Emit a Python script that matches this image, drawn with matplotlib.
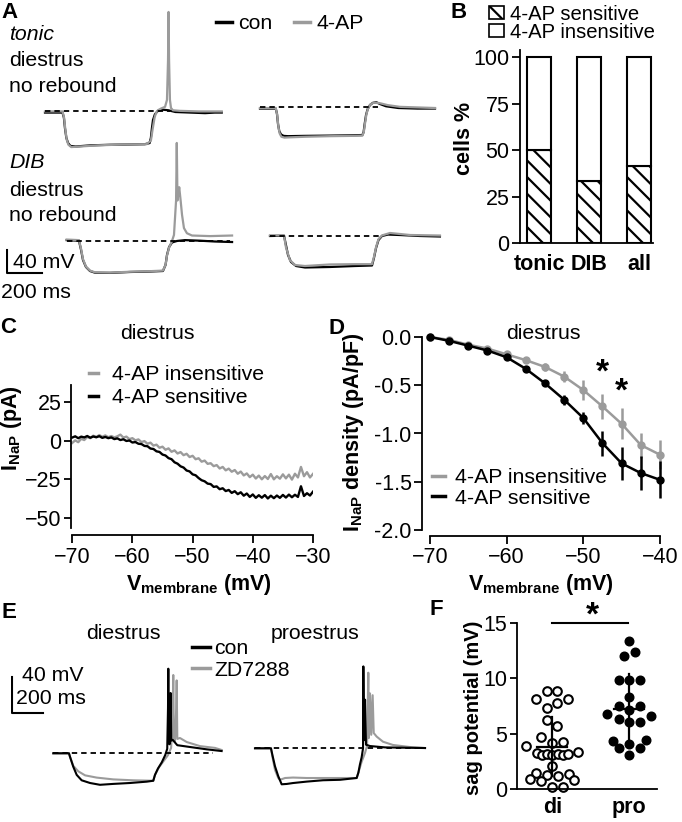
import numpy as np
import matplotlib
matplotlib.use('Agg')
import matplotlib.pyplot as plt
from matplotlib.patches import Patch
from matplotlib.lines import Line2D

plt.rcParams['font.family'] = 'Liberation Sans'
plt.rcParams['mathtext.fontset'] = 'custom'
plt.rcParams['mathtext.rm'] = 'Liberation Sans'
plt.rcParams['mathtext.it'] = 'Liberation Sans:italic'
plt.rcParams['mathtext.bf'] = 'Liberation Sans:bold'
plt.rcParams['hatch.linewidth'] = 1.6
plt.rcParams['axes.linewidth'] = 1.3

GRAY = '#9b9b9b'
FS = 15.3

# ---- panel A traces (ms, mV relative to rest) ----
tonic1_con_t = [0, 100, 108, 114, 122, 132, 145, 175, 260, 370, 480, 570, 598, 605, 611, 617, 628, 645, 675, 705, 745, 830, 915, 970, 1010]
tonic1_con_v = [-1, -1, -10, -28, -45, -54, -59, -60, -58, -57, -56.5, -56, -54, -45, -28, -14, -4, 2, 4, 3, 0, -1, -2, -1, -1]
tonic1_ap_t = [0, 100, 109, 116, 124, 134, 150, 200, 300, 450, 580, 605, 615, 626, 634, 645, 663, 686, 697, 703, 706, 709, 714, 720, 731, 770, 880, 1010]
tonic1_ap_v = [1, 1, -10, -30, -48, -57, -61, -60, -58, -56.5, -56, -50, -30, -10, -2, 3, 6, 9, 21, 90, 174, 90, 21, 7, 3, 2, 1, 1]

tonic2_con_t = [0, 90, 97, 103, 110, 120, 135, 160, 250, 400, 520, 585, 592, 598, 606, 615, 628, 645, 665, 685, 720, 790, 900, 1000]
tonic2_con_v = [-1, -1, -10, -28, -40, -46, -48.5, -49, -48.5, -48, -47.5, -47, -42, -28, -12, -2, 5, 9, 10, 7, 3, 0, -1, -1]
tonic2_ap_t = [0, 90, 98, 105, 112, 122, 140, 170, 260, 400, 520, 585, 593, 600, 608, 617, 630, 648, 668, 690, 730, 800, 900, 1000]
tonic2_ap_v = [0, 0, -12, -32, -44, -50, -51.5, -51, -50, -49, -48.5, -48, -42, -27, -11, -1, 6, 9, 9, 8, 5, 2, 1, 0]

dib1_con_t = [0, 70, 82, 93, 110, 133, 162, 247, 362, 476, 550, 565, 573, 585, 602, 630, 676, 762, 847, 945]
dib1_con_v = [1, 0, -16, -33.6, -45.7, -52.7, -55.7, -56, -54.4, -53.6, -52.7, -42, -25, -11, -3, -0.5, 1, 0, -1.4, -2.3]
dib1_ap_t = [0, 70, 82, 93, 110, 133, 162, 247, 362, 476, 550, 565, 573, 585, 600, 613, 625, 629, 633, 637, 643, 651, 659, 670, 687, 716, 819, 945]
dib1_ap_v = [2, 1, -14, -32, -45, -52, -55, -55.5, -54, -53, -52, -42, -26, -12, -2, 10, 70, 170, 70, 79, 93, 70, 45, 22, 13, 9, 8, 9]

dib2_con_t = [0, 80, 91, 103, 120, 149, 200, 343, 486, 583, 594, 606, 620, 640, 674, 743, 857, 971]
dib2_con_v = [-0.5, 0, -16, -33.6, -45.7, -52.7, -55.3, -54.4, -52.7, -51.8, -38.8, -21.4, -7.5, -0.5, 2, 1.2, -0.5, -1.4]
dib2_ap_t = [0, 80, 91, 114, 143, 200, 343, 486, 583, 594, 606, 620, 640, 686, 800, 971]
dib2_ap_v = [0.5, 0.5, -20, -42.6, -51, -52.7, -50, -49.5, -49.5, -37, -20, -6, 0.5, 4.7, 1.2, 0.3]

a_rest_level = [1.5, 1.5, 0, 0]
a_rest_end = [714, 674, 933, 630]

# ---- panel B ----
b_groups = ['tonic', 'DIB', 'all']
b_sensitive = [50.0, 33.3, 41.7]
b_insensitive = [50.0, 66.7, 58.3]

# ---- panel C ----
c_vm = [-70.0 + 0.5 * i for i in range(81)]
c_sens = [2.0, 2.8, 1.6, 2.6, 2.1, 3.0, 1.9, 2.7, 2.2, 2.9, 1.8, 2.4, 1.6, 2.1, 1.0, 1.5,
          0.4, 0.9, -0.2, 0.1, -1.2, -0.9, -2.0, -2.2, -3.4, -3.6, -5.1, -5.4, -6.9, -7.3,
          -9.0, -9.6, -11.3, -12.0, -14.0, -14.9, -16.6, -17.4, -19.3, -19.9, -21.8, -22.4,
          -24.2, -25.6, -26.3, -27.8, -28.1, -29.9, -29.6, -31.4, -30.8, -32.6, -31.9, -33.8,
          -32.7, -34.6, -33.4, -35.6, -34.2, -36.4, -34.8, -37.0, -35.3, -36.9, -35.2, -37.4,
          -35.6, -37.2, -35.5, -37.0, -35.1, -36.8, -34.9, -36.6, -35.0, -36.4, -29.5, -35.8,
          -34.0, -35.5, -33.0]
c_insens = [-1.5, 0.2, -1.0, 1.2, 0.4, 2.4, 1.6, 3.2, 2.3, 3.6, 2.5, 3.4, 2.2, 3.0, 2.1, 2.8,
            3.9, 2.0, 2.6, 1.0, 1.6, 0.2, 0.8, -0.9, -0.3, -2.0, -1.3, -3.2, -2.6, -4.6, -3.9,
            -5.9, -5.0, -7.2, -6.3, -8.3, -7.4, -9.4, -8.5, -10.6, -9.8, -12.0, -11.4, -13.6,
            -12.9, -15.0, -14.6, -16.5, -15.8, -18.0, -17.0, -19.2, -18.1, -20.1, -19.0, -21.4,
            -20.0, -22.5, -21.2, -23.6, -22.0, -24.5, -22.6, -25.0, -22.9, -24.8, -21.6, -25.0,
            -23.0, -24.6, -21.8, -24.4, -22.0, -25.2, -21.4, -23.8, -17.0, -23.0, -20.4, -23.8,
            -21.5]

# ---- panel D ----
d_vm = [-70, -67.5, -65, -62.5, -60, -57.5, -55, -52.5, -50, -47.5, -45, -42.5, -40]
d_sens = [0.0, -0.04, -0.09, -0.14, -0.21, -0.33, -0.48, -0.65, -0.84, -1.10, -1.31, -1.41, -1.48]
d_sens_err = [0.0, 0.01, 0.01, 0.02, 0.02, 0.03, 0.03, 0.05, 0.06, 0.13, 0.17, 0.18, 0.19]
d_insens = [0.0, -0.03, -0.08, -0.12, -0.18, -0.24, -0.31, -0.41, -0.55, -0.72, -0.90, -1.12, -1.22]
d_insens_err = [0.0, 0.01, 0.01, 0.01, 0.02, 0.03, 0.04, 0.06, 0.10, 0.13, 0.16, 0.13, 0.15]
d_star_v = [-47.5, -45]
d_star_y = [-0.29, -0.48]

# ---- panel E traces ----
edi_con_t = [0, 101, 108, 129, 151, 183, 237, 301, 387, 495, 603, 645, 656, 675, 700, 722, 735, 740, 742, 745, 750, 757, 761, 770, 800, 882, 990, 1086]
edi_con_v = [0, 0, -4, -15, -24, -30, -33, -35, -34, -33, -31.5, -30.5, -24, -17, -10, -2, 5, 50, 94, 20, 10, 67, 14, 15, 9, 7, 4.4, 2.5]
edi_zd_t = [0, 101, 108, 129, 161, 205, 280, 387, 514, 645, 656, 680, 710, 740, 760, 770, 774, 778, 785, 793, 796, 800, 817, 861, 946, 1043, 1086]
edi_zd_v = [0, 0, -4, -14, -20, -24.5, -27, -29, -30, -30.5, -24, -16, -9, -2, 6, 40, 87, 14, 13, 50, 81, 16, 17, 12.5, 8, 6, 3.7]
epro_con_t = [0, 103, 113, 129, 150, 172, 205, 245, 334, 439, 548, 656, 667, 677, 688, 697, 699, 703, 710, 716, 742, 839, 1097]
epro_con_v = [0, 0, -8, -20, -31, -40, -39.6, -38.6, -37, -35.5, -35, -33, -27, -18, -10, 0, 91, 9, 54, 4, 2.5, 1, 0.3]
epro_zd_t = [0, 103, 113, 129, 150, 161, 194, 245, 334, 548, 656, 667, 688, 710, 723, 731, 735, 742, 750, 759, 766, 785, 826, 890, 1000, 1097]
epro_zd_v = [0, 0, -10, -24, -33, -35, -33, -32.5, -33, -33, -33, -27, -15, -5, 3, 84, 11.5, 61, 15, 59, 17, 13, 7.3, 3.7, 1.4, 0.3]
e_rest_end = [1030, 1097]

# ---- panel F ----
f_groups = ['di', 'pro']
di_off = [-0.074, 0.065, -0.217, 0.209, 0.065, -0.074, -0.074, 0.065, -0.148, 0.0, 0.143, -0.335,
          -0.204, -0.139, -0.065, 0.0, 0.07, 0.135, 0.2, 0.33, 0.0, -0.217, -0.074, 0.07, 0.217,
          -0.291, -0.148, 0.287, 0.0, 0.143]
di_sag = [8.85, 8.85, 8.12, 8.12, 7.76, 7.33, 6.24, 5.70, 4.70, 4.18, 4.27, 3.88,
          3.27, 3.03, 3.12, 3.03, 3.12, 3.03, 3.12, 3.33, 2.12, 1.45, 1.24, 1.15, 1.39,
          0.94, 0.76, 0.85, 0.18, 0.18]
pro_off = [0.0, -0.07, 0.07, -0.139, 0.0, 0.143, 0.0, -0.139, 0.143, 0.0, -0.283, 0.287,
           -0.139, 0.0, 0.143, -0.213, 0.217, -0.139, 0.0, 0.143, 0.0]
pro_sag = [13.39, 12.0, 12.36, 9.85, 9.85, 9.85, 8.27, 7.52, 7.52, 7.12, 6.82, 6.61,
           6.30, 6.09, 6.09, 4.30, 4.39, 3.70, 4.09, 3.70, 3.06]
f_mean = [3.82, 7.2]
f_sd = [2.68, 3.15]

W, H = 682, 822
fig = plt.figure(figsize=(W / 100, H / 100), dpi=100)


def box(x0, y0, x1, y1):
    return fig.add_axes([x0 / W, 1 - y1 / H, (x1 - x0) / W, (y1 - y0) / H])


def label(x, y, s, **kw):
    kw.setdefault('fontsize', FS)
    kw.setdefault('va', 'center')
    return fig.text(x / W, 1 - y / H, s, **kw)


def trace_ax(x0, yb, sx, sy, t_lim=(-20, 1120), v_lim=(-70, 185)):
    ax = box(x0 + t_lim[0] * sx, yb - v_lim[1] * sy, x0 + t_lim[1] * sx, yb - v_lim[0] * sy)
    ax.set_xlim(t_lim)
    ax.set_ylim(v_lim)
    ax.axis('off')
    return ax


def legend_at(ax, handles, labels, x, y, **kw):
    kw.setdefault('fontsize', FS)
    kw.setdefault('handletextpad', 0.3)
    return ax.legend(handles, labels, loc='upper left', bbox_to_anchor=(x / W, 1 - y / H),
                     bbox_transform=fig.transFigure, frameon=False, borderpad=0,
                     borderaxespad=0, **kw)


def style_axes(ax):
    ax.spines['top'].set_visible(False)
    ax.spines['right'].set_visible(False)
    ax.tick_params(width=1.3, labelsize=15.5)
    ax.tick_params(axis='y', length=5, pad=2)
    ax.tick_params(axis='x', length=5.5, pad=3)


# ---------------- A ----------------
sxa, sya = 35 / 200, 23 / 40
a_spots = [(45, 112), (260, 108), (66.7, 240.7), (270, 235.7)]
a_traces = [(tonic1_con_t, tonic1_con_v, tonic1_ap_t, tonic1_ap_v),
            (tonic2_con_t, tonic2_con_v, tonic2_ap_t, tonic2_ap_v),
            (dib1_con_t, dib1_con_v, dib1_ap_t, dib1_ap_v),
            (dib2_con_t, dib2_con_v, dib2_ap_t, dib2_ap_v)]
a_axes = []
for (x0, yb), (ct, cv, gt, gv), lev, end in zip(a_spots, a_traces, a_rest_level, a_rest_end):
    ax = trace_ax(x0, yb, sxa, sya)
    ax.plot(ct, cv, color='black', lw=1.6)
    ax.plot(gt, gv, color=GRAY, lw=1.6)
    ax.plot([0, end], [lev, lev], color='black', lw=1.3, dashes=(3, 2.2))
    a_axes.append(ax)

sb = trace_ax(7, 273, sxa, sya, t_lim=(-5, 250), v_lim=(-5, 50))
sb.plot([0, 0, 200], [40, 0, 0], color='black', lw=1.5)
label(13, 263, '40 mV')
label(1, 292, '200 ms')

legend_at(a_axes[0], [Line2D([], [], color='black', lw=2.5), Line2D([], [], color=GRAY, lw=2.5)],
          ['con', '4-AP'], 216, 14, ncol=2, handlelength=0.75, columnspacing=1.0)

label(9, 35, 'tonic', style='italic')
label(9, 60, 'diestrus')
label(9, 86, 'no rebound')
label(9, 163, 'DIB', style='italic')
label(9, 190, 'diestrus')
label(9, 215, 'no rebound')

# ---------------- B ----------------
ax_b = box(520, 50, 653, 243)
pos = np.arange(len(b_groups))
ax_b.bar(pos, b_sensitive, width=0.48, color='white', edgecolor='black', hatch='\\\\', lw=1.5)
ax_b.bar(pos, b_insensitive, bottom=b_sensitive, width=0.48, color='white', edgecolor='black', lw=1.5)
ax_b.set_xlim(-0.38, 2.28)
ax_b.set_ylim(0, 104)
ax_b.set_yticks([0, 25, 50, 75, 100])
ax_b.set_xticks(pos)
ax_b.set_xticklabels(b_groups, fontweight='bold', fontsize=FS)
style_axes(ax_b)
ax_b.tick_params(axis='y', length=5.5)
ax_b.tick_params(axis='x', length=0, pad=8)
legend_at(ax_b, [Patch(facecolor='white', edgecolor='black', hatch='\\\\', lw=1.2),
                 Patch(facecolor='white', edgecolor='black', lw=1.2)],
          ['4-AP sensitive', '4-AP insensitive'], 489, 5, fontsize=14.6,
          handlelength=0.75, handleheight=0.6, labelspacing=-0.05)
label(465, 138, 'cells %', rotation=90, ha='center', fontweight='bold', fontsize=15.5)

# ---------------- C ----------------
ax_c = box(71, 385, 313, 528)
ax_c.plot(c_vm, c_insens, color=GRAY, lw=1.7, label='4-AP insensitive')
ax_c.plot(c_vm, c_sens, color='black', lw=1.7, label='4-AP sensitive')
ax_c.set_xlim(-70.2, -30)
ax_c.set_ylim(-56.5, 36)
ax_c.set_xticks([-70, -60, -50, -40, -30])
ax_c.set_yticks([-50, -25, 0, 25])
style_axes(ax_c)
ax_c.spines['bottom'].set_position(('outward', 5))
ax_c.spines['bottom'].set_bounds(-70, -30)
h, l = ax_c.get_legend_handles_labels()
legend_at(ax_c, [Line2D([], [], color=GRAY, lw=2.5), Line2D([], [], color='black', lw=2.5)],
          l, 89, 365, handlelength=0.4, handletextpad=0.7, labelspacing=0.2)
label(157, 333, 'diestrus', ha='center')
label(11, 428, r'$\mathbf{I_{NaP}}$ (pA)', rotation=90, ha='center', fontweight='bold', fontsize=15.5)
label(199, 584, r'$\mathbf{V_{membrane}}$ (mV)', ha='center', fontweight='bold', fontsize=15.5)

# ---------------- D ----------------
ax_d = box(422, 337, 660, 530)
ax_d.errorbar(d_vm, d_insens, yerr=d_insens_err, color=GRAY, marker='o', ms=5, lw=1.8,
              elinewidth=1.8, capsize=0, clip_on=False)
ax_d.errorbar(d_vm, d_sens, yerr=d_sens_err, color='black', marker='o', ms=5, lw=1.8,
              elinewidth=1.8, capsize=0, clip_on=False)
ax_d.set_xlim(-71.04, -40)
ax_d.set_ylim(-2.0, 0.0)
ax_d.set_xticks([-70, -60, -50, -40])
ax_d.set_yticks([-2.0, -1.5, -1.0, -0.5, 0.0])
ax_d.set_yticklabels(['%.1f' % v for v in [-2.0, -1.5, -1.0, -0.5, 0.0]])
style_axes(ax_d)
ax_d.tick_params(axis='y', length=5.5)
ax_d.spines['bottom'].set_position(('outward', 4))
ax_d.spines['bottom'].set_bounds(-70, -40)
for xs, ys in zip(d_star_v, d_star_y):
    # the '*' glyph sits high in its box, so anchor it a little lower
    ax_d.annotate('*', (xs, ys), xytext=(0, -6), textcoords='offset points',
                  ha='center', va='center', fontsize=24, fontweight='bold')
legend_at(ax_d, [Line2D([], [], color=GRAY, lw=2.5), Line2D([], [], color='black', lw=2.5)],
          ['4-AP insensitive', '4-AP sensitive'], 432, 468, handlelength=0.6,
          handletextpad=0.5, labelspacing=0.08)
label(543, 333, 'diestrus', ha='center')
label(353, 432, r'$\mathbf{I_{NaP}}$ density (pA/pF)', rotation=90, ha='center',
      fontweight='bold', fontsize=15.5)
label(541, 584, r'$\mathbf{V_{membrane}}$ (mV)', ha='center', fontweight='bold', fontsize=15.5)

# ---------------- E ----------------
sxe, sye = 31 / 200, 36 / 40
e_spots = [(53.3, 753.3), (255, 748.3)]
e_traces = [(edi_con_t, edi_con_v, edi_zd_t, edi_zd_v),
            (epro_con_t, epro_con_v, epro_zd_t, epro_zd_v)]
e_axes = []
for (x0, yb), (ct, cv, gt, gv), end in zip(e_spots, e_traces, e_rest_end):
    ax = trace_ax(x0, yb, sxe, sye, v_lim=(-50, 110))
    ax.plot(gt, gv, color=GRAY, lw=1.5)
    ax.plot(ct, cv, color='black', lw=1.5)
    ax.plot([0, end], [0, 0], color='black', lw=1.3, dashes=(3, 2.2))
    e_axes.append(ax)

sbe = trace_ax(12, 713, sxe, sye, t_lim=(-5, 250), v_lim=(-5, 50))
sbe.plot([0, 0, 200], [40, 0, 0], color='black', lw=1.5)
label(22, 675, '40 mV')
label(16, 698, '200 ms')
label(123, 633, 'diestrus', ha='center')
label(315, 633, 'proestrus', ha='center')
legend_at(e_axes[0], [Line2D([], [], color='black', lw=2.5), Line2D([], [], color=GRAY, lw=2.5)],
          ['con', 'ZD7288'], 192, 639, handlelength=0.85, handletextpad=0.2, labelspacing=0.12)

# ---------------- F ----------------
ax_f = box(517, 623, 657, 789)
ax_f.plot(np.array(di_off) + 0, di_sag, 'o', mfc='white', mec='black', ms=6.2, mew=1.5, clip_on=False)
ax_f.plot(np.array(pro_off) + 1, pro_sag, 'o', color='black', ms=6.2, clip_on=False)
for i, (m, s) in enumerate(zip(f_mean, f_sd)):
    ax_f.plot([i - 0.195, i + 0.195], [m, m], color='black', lw=1.6, zorder=3)
    ax_f.plot([i, i], [m - s, m + s], color='black', lw=1.6, zorder=3)
ax_f.set_xlim(-0.458, 1.36)
ax_f.set_ylim(0, 15)
ax_f.set_yticks([0, 5, 10, 15])
ax_f.set_xticks([0, 1])
ax_f.set_xticklabels(f_groups, fontweight='bold', fontsize=FS)
style_axes(ax_f)
ax_f.tick_params(axis='x', length=0, pad=6)
ax_f.plot([0, 0.98], [15, 15], color='black', lw=1.5, clip_on=False)
ax_f.annotate('*', (0.52, 15.0), xytext=(0, 5), textcoords='offset points',
              ha='center', va='center', fontsize=24, fontweight='bold', annotation_clip=False)
label(473, 708, 'sag potential (mV)', rotation=90, ha='center', fontweight='bold', fontsize=14.5)

# panel letters
for s, x, y in [('A', 10, 12), ('B', 459, 12), ('C', 8, 327), ('D', 336, 328), ('E', 9, 612), ('F', 436, 609)]:
    label(x, y, s, ha='center', fontweight='bold', fontsize=16)

fig.savefig('out.png', dpi=100)
